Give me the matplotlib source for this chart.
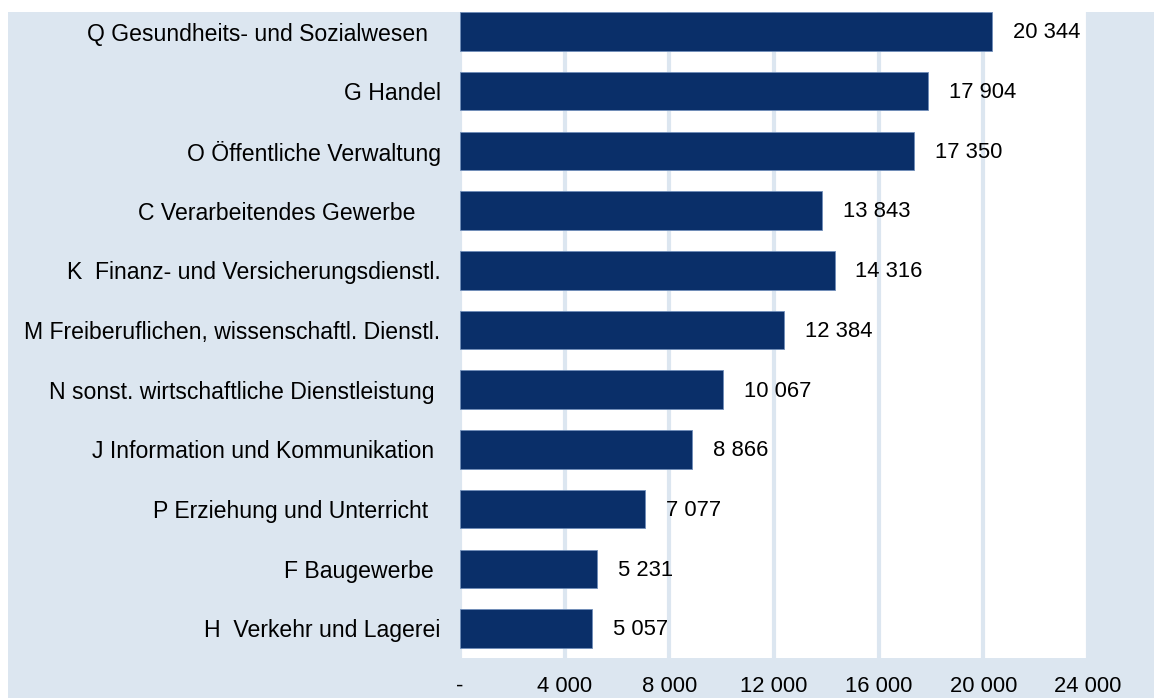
import matplotlib.pyplot as plt
from matplotlib.patches import Rectangle

# Werte (Reihenfolge von oben nach unten)
branchen = ['Q Gesundheits- und Sozialwesen  ',
            'G Handel',
            'O Öffentliche Verwaltung',
            'C Verarbeitendes Gewerbe    ',
            'K  Finanz- und Versicherungsdienstl.',
            'M Freiberuflichen, wissenschaftl. Dienstl.',
            'N sonst. wirtschaftliche Dienstleistung ',
            'J Information und Kommunikation ',
            'P Erziehung und Unterricht  ',
            'F Baugewerbe ',
            'H  Verkehr und Lagerei']
werte = [20344, 17904, 17350, 13843, 14316, 12384, 10067, 8866, 7077, 5231, 5057]
xticks = [0, 4000, 8000, 12000, 16000, 20000, 24000]
xlabels = ['-', '4 000', '8 000', '12 000', '16 000', '20 000', '24 000']

bg = '#DCE6F0'
navy = '#0A2F69'
fs = 15.8
fs_y = 16.6

plt.rcParams['font.family'] = ['Liberation Sans', 'DejaVu Sans']

W, H = 1154, 698
fig = plt.figure(figsize=(W / 100, H / 100), dpi=100, facecolor='white')
fig.patches.append(Rectangle((8 / W, 0), 1 - 8 / W, (H - 12) / H,
                             transform=fig.transFigure, facecolor=bg,
                             edgecolor='none', zorder=-10))

ax = fig.add_axes([460 / W, (H - 657.7) / H, (1088 - 460) / W, (657.7 - 12) / H])
ax.set_facecolor('white')

pos = list(range(len(werte)))
ax.barh(pos, werte, height=0.645, color=navy, edgecolor='#6F8DB9',
        linewidth=0.6, zorder=3)

for p, v in zip(pos, werte):
    txt = '{:,}'.format(v).replace(',', ' ')
    ax.annotate(txt, (v, p), xytext=(15, -1), textcoords='offset points',
                ha='left', va='center', fontsize=fs, color='black')

ax.set_ylim(10.49, -0.327)
ax.set_xlim(0, 24000)
ax.set_xticks(xticks)
ax.set_xticklabels(xlabels, fontsize=fs)
ax.set_yticks(pos)
ax.set_yticklabels(branchen, fontsize=fs_y)
ax.tick_params(axis='both', length=0)
ax.tick_params(axis='x', pad=13)
ax.tick_params(axis='y', pad=14)

ax.grid(axis='x', color=bg, linewidth=3, zorder=0)
ax.set_axisbelow(True)
for s in ax.spines.values():
    s.set_visible(False)

fig.savefig('out.png', dpi=100, facecolor=fig.get_facecolor())
